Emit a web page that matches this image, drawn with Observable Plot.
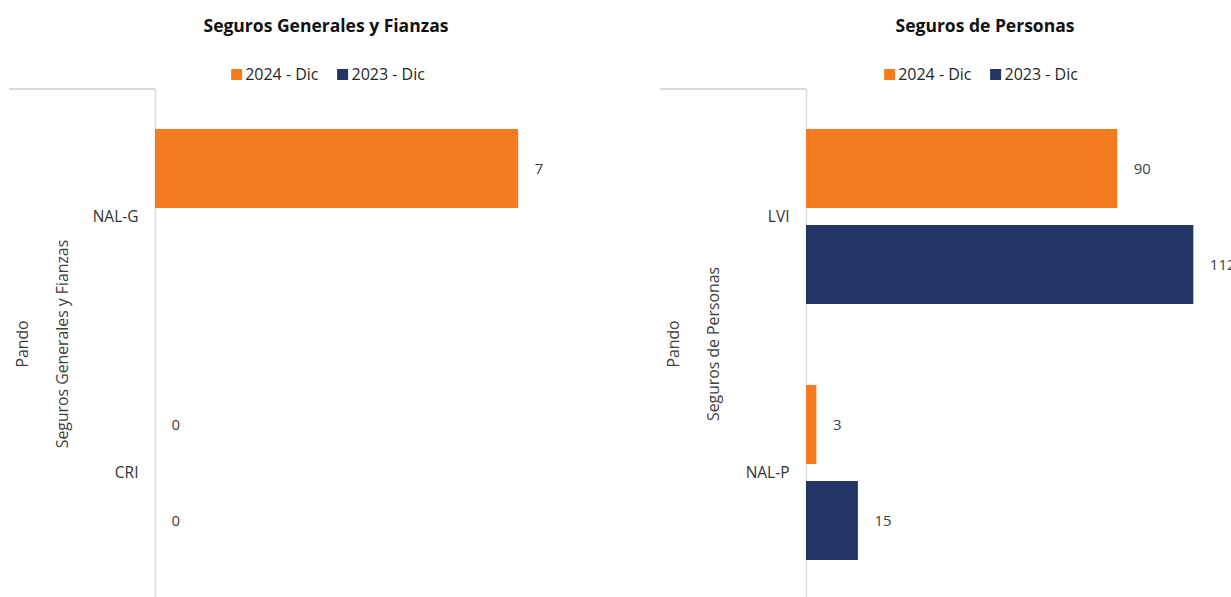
<!DOCTYPE html>
<html>
<head>
<meta charset="utf-8">
<script src="https://cdn.jsdelivr.net/npm/d3@7"></script>
<script src="https://cdn.jsdelivr.net/npm/@observablehq/plot@0.6"></script>
<style>
  html, body { margin: 0; padding: 0; background: #fff; }
  body { width: 1231px; height: 597px; overflow: hidden; position: relative; font-family: "Open Sans", Lato, sans-serif; color: #404040; }
  .panel { position: absolute; top: 0; width: 620px; height: 620px; }
  .title { position: absolute; top: 12px; transform: translateX(-50%); white-space: nowrap; font-weight: 700; font-size: 17.5px; line-height: 26px; color: #111; }
  .legend { position: absolute; top: 63px; transform: translateX(-50%); white-space: nowrap; font-size: 16px; line-height: 22px; color: #262626; display: flex; align-items: center; }
  .legend .item { display: flex; align-items: center; margin-right: 19px; }
  .legend .item:last-child { margin-right: 0; }
  .legend .sw { width: 11px; height: 11px; margin-right: 3px; }
  .vlabel { position: absolute; white-space: nowrap; transform: translate(-50%, -50%) rotate(-90deg); font-size: 15.8px; color: #404040; }
  .topline { position: absolute; top: 88px; height: 1.5px; background: #d9d9de; }
  .chart { position: absolute; left: 0; top: 80px; }
</style>
</head>
<body>
<script>
const seriesNames = ["2024 - Dic", "2023 - Dic"];
const seriesColors = ["#F47B20", "#233467"];

const generalesTitle = "Seguros Generales y Fianzas";
const generalesCategories = ["NAL-G", "CRI"];
const generales2024 = [7, 0];
const generales2023 = [null, 0];
const generalesXDomain = [0, 8];

const personasTitle = "Seguros de Personas";
const personasCategories = ["LVI", "NAL-P"];
const personas2024 = [90, 3];
const personas2023 = [112, 15];
const personasXDomain = [0, 120];

const regionLabel = "Pando";

function makePanel(left, title, titleCenter, legendCenter, cats, v24, v23, xDomain) {
  const panel = document.createElement("div");
  panel.className = "panel";
  panel.style.left = left + "px";
  document.body.appendChild(panel);

  const t = document.createElement("div");
  t.className = "title";
  t.style.left = titleCenter + "px";
  t.textContent = title;
  panel.appendChild(t);

  const lg = document.createElement("div");
  lg.className = "legend";
  lg.style.left = legendCenter + "px";
  seriesNames.forEach((s, i) => {
    const it = document.createElement("div");
    it.className = "item";
    const sw = document.createElement("div");
    sw.className = "sw";
    sw.style.background = seriesColors[i];
    const tx = document.createElement("span");
    tx.textContent = s;
    it.appendChild(sw); it.appendChild(tx);
    lg.appendChild(it);
  });
  panel.appendChild(lg);

  const line = document.createElement("div");
  line.className = "topline";
  line.style.left = "9px";
  line.style.width = "146px";
  panel.appendChild(line);

  const l1 = document.createElement("div");
  l1.className = "vlabel";
  l1.style.left = "22px"; l1.style.top = "344px";
  l1.textContent = regionLabel;
  panel.appendChild(l1);

  const l2 = document.createElement("div");
  l2.className = "vlabel";
  l2.style.left = "62px"; l2.style.top = "344px";
  l2.textContent = title;
  panel.appendChild(l2);

  const rows = [];
  cats.forEach((c, i) => {
    if (v24[i] != null) rows.push({cat: c, series: seriesNames[0], value: v24[i]});
    if (v23[i] != null) rows.push({cat: c, series: seriesNames[1], value: v23[i]});
  });

  const chart = Plot.plot({
    width: 620,
    height: 530,
    marginTop: 8,
    marginBottom: 9,
    marginLeft: 155,
    marginRight: 50,
    style: {fontFamily: "'Open Sans', Lato, sans-serif", fontSize: "15px", color: "#404040", background: "transparent", overflow: "visible"},
    x: {domain: xDomain, axis: null},
    y: {domain: seriesNames, axis: null, paddingInner: 0.175, paddingOuter: 0.41},
    fy: {domain: cats, padding: 0},
    color: {domain: seriesNames, range: seriesColors},
    marks: [
      Plot.axisFy({anchor: "left", tickSize: 0, tickPadding: 17, fontSize: 15.5, label: null, fill: "#333"}),
      Plot.ruleX([0], {stroke: "#d9d9de", strokeWidth: 1.5}),
      Plot.barX(rows, {x: "value", y: "series", fy: "cat", fill: "series"}),
      Plot.text(rows, {x: "value", y: "series", fy: "cat", text: d => String(d.value), textAnchor: "start", dx: 16, fill: "#404040", fontSize: 15})
    ]
  });
  chart.classList.add("chart");
  panel.appendChild(chart);
}

makePanel(0, generalesTitle, 326, 328, generalesCategories, generales2024, generales2023, generalesXDomain);
makePanel(651, personasTitle, 334, 330, personasCategories, personas2024, personas2023, personasXDomain);
</script>
</body>
</html>
